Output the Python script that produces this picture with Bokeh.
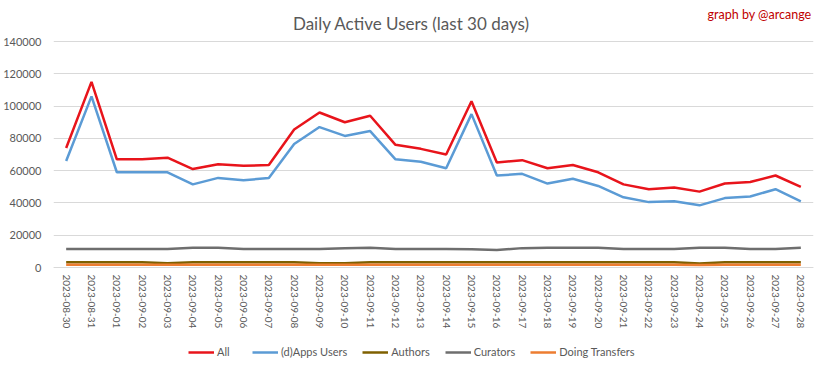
from bokeh.plotting import figure
from bokeh.models import Legend, LegendItem, Label, FactorRange, Range1d, FixedTicker, BasicTickFormatter
from bokeh.embed import file_html
from bokeh.resources import INLINE

dates = ["2023-08-30", "2023-08-31", "2023-09-01", "2023-09-02", "2023-09-03", "2023-09-04",
         "2023-09-05", "2023-09-06", "2023-09-07", "2023-09-08", "2023-09-09", "2023-09-10",
         "2023-09-11", "2023-09-12", "2023-09-13", "2023-09-14", "2023-09-15", "2023-09-16",
         "2023-09-17", "2023-09-18", "2023-09-19", "2023-09-20", "2023-09-21", "2023-09-22",
         "2023-09-23", "2023-09-24", "2023-09-25", "2023-09-26", "2023-09-27", "2023-09-28"]

all_users = [74000, 115000, 67000, 67000, 68000, 61000, 64000, 63000, 63500, 85500,
             96000, 90000, 94000, 76000, 73500, 70000, 103000, 65000, 66500, 61500,
             63500, 59000, 51500, 48500, 49500, 47000, 52000, 53000, 57000, 50000]

apps_users = [66000, 106000, 59000, 59000, 59000, 51500, 55500, 54000, 55500, 76500,
              87000, 81500, 84500, 67000, 65500, 61500, 95000, 57000, 58000, 52000,
              55000, 50500, 43500, 40500, 41000, 38500, 43000, 44000, 48500, 41000]

authors = [3300, 3300, 3300, 3300, 2700, 3300, 3300, 3300, 3300, 3300,
           2600, 2600, 3300, 3300, 3300, 3300, 3300, 3300, 3300, 3300,
           3300, 3300, 3300, 3300, 3300, 2500, 3300, 3300, 3300, 3300]

curators = [11500, 11500, 11500, 11500, 11500, 12200, 12200, 11500, 11500, 11500,
            11500, 12000, 12200, 11500, 11500, 11500, 11300, 10800, 12000, 12200,
            12200, 12200, 11500, 11500, 11500, 12200, 12200, 11500, 11500, 12200]

transfers = [1700, 1700, 1700, 1700, 1700, 1700, 1700, 1700, 1700, 1700,
             1700, 1700, 1700, 1700, 1700, 1700, 1700, 1700, 1700, 1700,
             1700, 1700, 1700, 1700, 1700, 1600, 1700, 1700, 1700, 1700]

y_ticks = [0, 20000, 40000, 60000, 80000, 100000, 120000, 140000]

series_names = ["All", "(d)Apps Users", "Authors", "Curators", "Doing Transfers"]
series_colors = ["#e8141b", "#5b9bd5", "#7f6000", "#6e6e6e", "#ed7d31"]
series_values = [all_users, apps_users, authors, curators, transfers]

FONT = "Lato"
TXT = "#595959"

# The frame covers the whole figure height; the value axis 0..140000 occupies
# pixels 41..267 from the top; the x axis is pinned at y=0 inside the frame,
# leaving room below it for the legend and above it for the title.
FIG_H = 363
ZERO_PX = 267
TOP_PX = 41
per_px = y_ticks[-1] / (ZERO_PX - TOP_PX)
y_top = ZERO_PX * per_px
y_bottom = -(FIG_H - ZERO_PX) * per_px

p = figure(frame_width=760, frame_height=FIG_H, output_backend="svg", toolbar_location=None,
           x_range=FactorRange(factors=dates, range_padding=0),
           y_range=Range1d(y_bottom, y_top),
           min_border_left=50, min_border_right=7, min_border_top=0, min_border_bottom=0)
p.outline_line_color = None
p.background_fill_color = "white"
p.border_fill_color = "white"

p.xgrid.grid_line_color = None
p.ygrid.grid_line_color = "#d9d9d9"
p.ygrid.grid_line_width = 1

p.yaxis.ticker = FixedTicker(ticks=y_ticks)
p.yaxis.formatter = BasicTickFormatter(use_scientific=False)
p.yaxis.axis_line_color = None
p.yaxis.major_tick_line_color = None
p.yaxis.minor_tick_line_color = None
p.yaxis.major_tick_out = 0
p.yaxis.major_label_standoff = 12
p.yaxis.major_label_text_font = FONT
p.yaxis.major_label_text_font_size = "11px"
p.yaxis.major_label_text_color = TXT

p.xaxis.fixed_location = 0
p.xaxis.axis_line_color = "#d9d9d9"
p.xaxis.major_tick_line_color = None
p.xaxis.minor_tick_line_color = None
p.xaxis.major_tick_out = 0
p.xaxis.major_label_orientation = "vertical"
p.xaxis.major_label_standoff = 7
p.xaxis.major_label_text_font = FONT
p.xaxis.major_label_text_font_size = "10px"
p.xaxis.major_label_text_color = TXT

items = []
for name, col, vals in zip(series_names, series_colors, series_values):
    r = p.line(dates, vals, line_color=col, line_width=2.5)
    items.append(LegendItem(label=name, renderers=[r]))

legend = Legend(items=items, orientation="horizontal", location=(135, 5),
                glyph_width=26, glyph_height=12, label_standoff=3, spacing=15,
                padding=2, margin=0, border_line_color=None, background_fill_alpha=0,
                label_text_font=FONT, label_text_font_size="11px", label_text_color=TXT,
                label_height=12)
p.add_layout(legend, "center")

title = Label(x=358, y=FIG_H - 23, x_units="screen", y_units="screen",
              text="Daily Active Users (last 30 days)", text_align="center",
              text_baseline="middle", text_font=FONT, text_font_size="17px",
              text_color=TXT)
p.add_layout(title)

credit = Label(x=758, y=FIG_H - 14, x_units="screen", y_units="screen",
               text="graph by @arcange", text_align="right", text_baseline="middle",
               text_font=FONT, text_font_size="12.5px", text_color="#c00000")
p.add_layout(credit)

open("out.html", "w").write(file_html(p, INLINE))
